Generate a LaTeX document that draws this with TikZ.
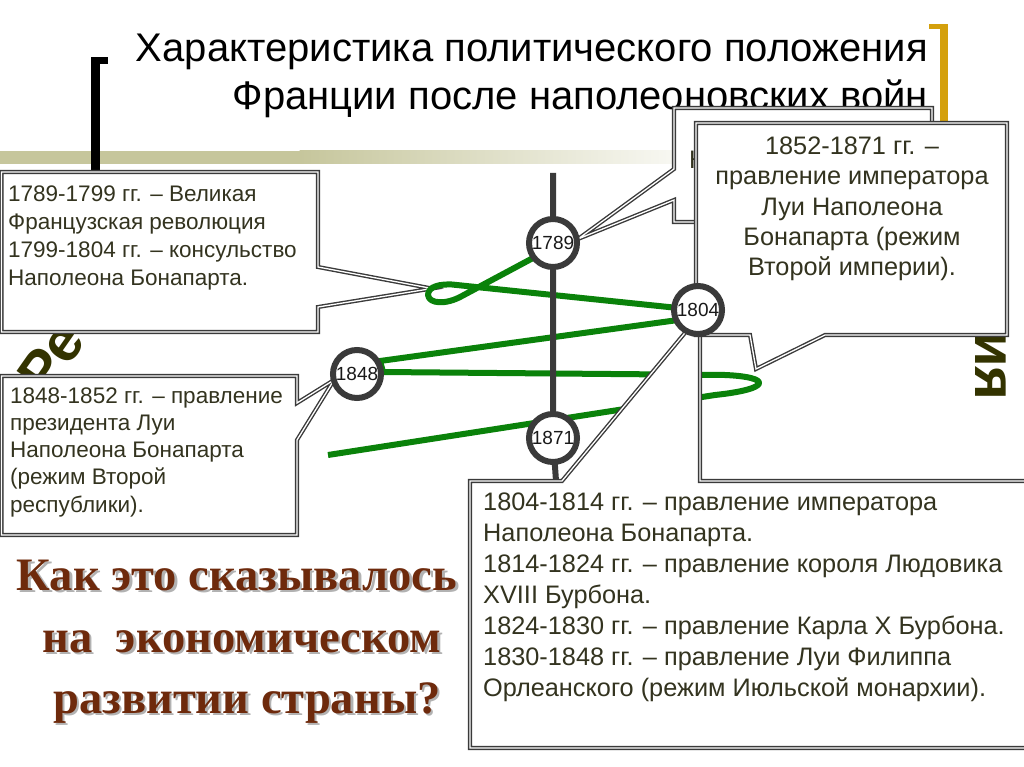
\documentclass[tikz,border=0pt]{standalone}
\usepackage{fontspec}
\setmainfont{Liberation Sans}
\newfontfamily\qfont{Liberation Serif}
\usetikzlibrary{calc}
\definecolor{boxline}{HTML}{3A3A3A}
\definecolor{txt}{HTML}{33331F}
\definecolor{grn}{HTML}{0A820A}
\definecolor{gold}{HTML}{D4A00C}
\definecolor{olivebar}{HTML}{C6C69C}
\definecolor{qbrown}{HTML}{6E2A0C}
\definecolor{wordart}{HTML}{333300}
\newcommand\myshadowed[1]{\leavevmode\rlap{\kern2.5pt\raisebox{-2.5pt}{\textcolor{black!30}{#1}}}\textcolor{qbrown}{#1}}
\begin{document}
\begin{tikzpicture}[x=1pt,y=-1pt,
  callout/.style={fill=white, draw=boxline, line width=1.4pt, double=white, double distance=1.3pt, line join=miter},
  year/.style={circle, fill=white, draw=boxline, line width=6pt, minimum size=48pt, inner sep=0pt,
     font=\fontsize{19}{19}\selectfont, text=black!90},
  smalltxt/.style={inner sep=0pt, anchor=base west, text=txt, font=\fontsize{22.5}{27}\selectfont},
  bigtxt/.style={inner sep=0pt, text=txt, font=\fontsize{25.3}{30}\selectfont},
  titletxt/.style={inner sep=0pt, anchor=base east, text=black, font=\fontsize{40}{44}\selectfont},
  wa/.style={inner sep=0pt, text=wordart, font=\bfseries\fontsize{58}{58}\selectfont},
  qtxt/.style={inner sep=0pt, anchor=base, font=\qfont\bfseries\fontsize{46.5}{48}\selectfont},
  spiral/.style={draw=grn, line width=6pt, line join=round},
  axis/.style={draw=boxline, line width=6pt}
]
\useasboundingbox (0,0) rectangle (1024,767);
\fill[white] (0,0) rectangle (1024,767);

% decorative bar and brackets
\fill[olivebar] (0,151) rectangle (300,164);
\shade[left color=olivebar, right color=white] (299.5,151) rectangle (730,164);
\fill[black] (91,57) rectangle (100,173);
\fill[black] (91,57) rectangle (108,64);
\fill[gold] (940,24) rectangle (948,126);
\fill[gold] (929,24) rectangle (948,29);

% title
\node[titletxt] (t1) at (928,62) {Характеристика политического положения};
\node[titletxt] (t2) at (928,110) {Франции после наполеоновских войн};

% word-art fragments
\node[wa, rotate=55, anchor=base west] (re) at (47,398) {Ре};
\node[wa, rotate=-90, anchor=base east] (tsia) at (975,401) {ция};

% question
\node[qtxt] (q1) at (237,590) {\myshadowed{Как это сказывалось}};
\node[qtxt] (q2) at (242,652) {\myshadowed{на\ \ экономическом}};
\node[qtxt] (q3) at (247,713) {\myshadowed{развитии страны?}};

% box A
\draw[callout] (1.5,172) -- (318,172) -- (318,267) -- (432,288.5) -- (318,307) -- (318,332) -- (1.5,332) -- cycle;
\foreach \t [count=\i] in {{1789-1799 гг. – Великая},{Французская революция},{1799-1804 гг. – консульство},{Наполеона Бонапарта.}}
  \node[smalltxt] (a\i) at (8,{202+27.7*(\i-1)}) {\t};

% box B
\draw[callout] (1.5,376) -- (297,376) -- (297,403) -- (334,380) -- (297,440) -- (297,535) -- (1.5,535) -- cycle;
\foreach \t [count=\i] in {{1848-1852 гг. – правление},{президента Луи},{Наполеона Бонапарта},{(режим Второй},{республики).}}
  \node[smalltxt] (b\i) at (10,{403+27.3*(\i-1)}) {\t};

% green spiral
\draw[spiral] (533,258) -- (462,296) .. controls (446,305) and (429,304) .. (428,295)
  .. controls (428,286) and (441,284) .. (452,284.5) -- (678,308) -- (678,320) -- (380,361)
  -- (383,372) -- (725,375) .. controls (772,377) and (772,389) .. (715,395) -- (328,455);

% time axis
\coordinate (axtop) at (553,173);
\coordinate (axbot) at (556,481);
\coordinate (p1789) at (553,243);
\coordinate (p1871) at (553,438);
\draw[axis] (axtop) -- (p1789) -- (p1871) -- (axbot);

% box C
\draw[callout] (470,481) -- (562,481) -- (694,322) -- (700,335) -- (700,481) -- (1035,481) -- (1035,748) -- (470,748) -- cycle;
\foreach \t [count=\i] in {{1804-1814 гг. – правление императора},{Наполеона Бонапарта.},{1814-1824 гг. – правление короля Людовика},{XVIII Бурбона.},{1824-1830 гг. – правление Карла Х Бурбона.},{1830-1848 гг. – правление Луи Филиппа},{Орлеанского (режим Июльской монархии).}}
  \node[bigtxt, anchor=base west] (c\i) at (483,{510+31*(\i-1)}) {\t};

% box E (hidden behind D)
\draw[callout] (674,108) -- (932,108) -- (932,222) -- (674,222) -- (674,200) -- (578,239) -- (674,169) -- cycle;
\node[bigtxt, anchor=base west] (e1) at (689,169) {К};

% box D
\draw[callout] (696,123) -- (1007,123) -- (1007,335) -- (825,335) -- (756,369) -- (750,335) -- (696,335) -- cycle;
\foreach \t [count=\i] in {{1852-1871 гг. –},{правление императора},{Луи Наполеона},{Бонапарта (режим},{Второй империи).}}
  \node[bigtxt, anchor=base] (d\i) at (852,{155+30*(\i-1)}) {\t};

% year circles
\node[year] (c1789) at (p1789) {1789};
\node[year] (c1804) at (698,310) {1804};
\node[year] (c1848) at (357,374) {1848};
\node[year] (c1871) at (p1871) {1871};
\end{tikzpicture}
\end{document}
